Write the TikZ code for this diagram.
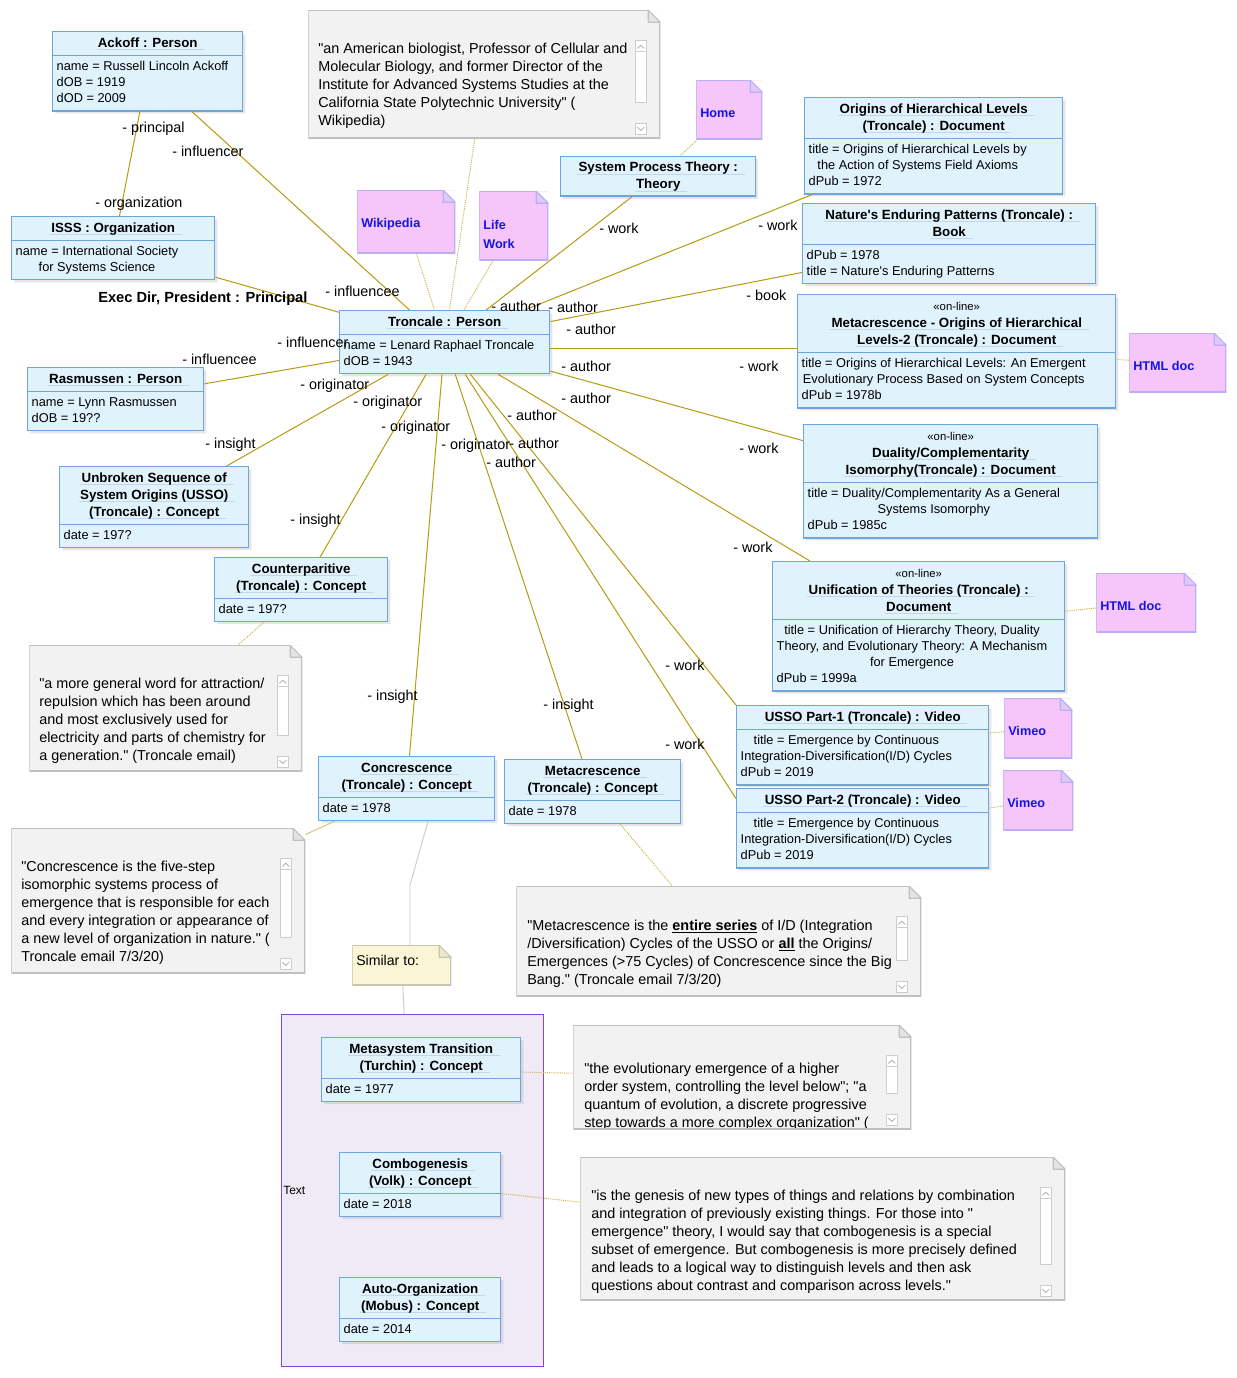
\documentclass[tikz,border=0pt]{standalone}
\usepackage{fontspec}
\setmainfont{Liberation Sans}[Ligatures=TeXOff]
\usetikzlibrary{positioning,shapes.multipart,shadows}

\definecolor{objfill}{RGB}{224,242,252}
\definecolor{objborder}{RGB}{110,165,225}
\definecolor{ulcol}{RGB}{196,214,232}
\definecolor{assoccol}{RGB}{184,154,18}
\definecolor{linkfill}{RGB}{246,198,250}
\definecolor{linkborder}{RGB}{185,175,245}
\definecolor{linkfold}{RGB}{226,200,248}
\definecolor{linkblue}{RGB}{20,20,230}
\definecolor{notefill}{RGB}{242,242,242}
\definecolor{noteborder}{RGB}{192,192,192}
\definecolor{notefold}{RGB}{228,228,228}
\definecolor{simfill}{RGB}{250,245,212}
\definecolor{simborder}{RGB}{200,196,176}
\definecolor{simfold}{RGB}{236,232,205}
\definecolor{framefill}{RGB}{240,233,246}
\definecolor{frameborder}{RGB}{140,64,215}
\definecolor{sbborder}{RGB}{205,205,205}
\definecolor{sbarrow}{RGB}{175,175,175}

\newcommand\ppbb{path picture bounding box}
\newcommand\ttl[1]{{\fontsize{10}{12.75}\selectfont\bfseries\strut\setbox0=\hbox{#1}\rlap{\kern-1pt\textcolor{ulcol}{\rule[-2.4pt]{\dimexpr\wd0+6pt\relax}{0.7pt}}}\box0}}
\newcommand\stereo{{\fontsize{8.5}{12.75}\selectfont\strut«on-line»}}
\newcommand\attrs[1]{{\renewcommand\arraystretch{0.95}\begin{tabular}{@{}l@{}}#1\end{tabular}}}
\newcommand\ctrrow[1]{\multicolumn{1}{@{}c@{}}{#1}}
\newcommand\topbox[4]{\parbox[c][#1][t]{#2}{\raggedright\vspace*{#3}\strut#4}}
\newcommand\dogear[2]{%
  \fill[white] ([xshift=-9pt]\ppbb.north east) -- (\ppbb.north east) -- ([yshift=-9pt]\ppbb.north east) -- cycle;
  \draw[#1, line width=1.6pt] ([xshift=-9pt]\ppbb.north east) -- (\ppbb.north west) -- (\ppbb.south west) -- (\ppbb.south east) -- ([yshift=-9pt]\ppbb.north east);
  \filldraw[fill=#2, draw=#1, line width=0.8pt, line join=round] ([xshift=-9pt]\ppbb.north east) -- ([shift={(-9pt,-9pt)}]\ppbb.north east) -- ([yshift=-9pt]\ppbb.north east) -- cycle;}
\newcommand\notescroll{%
  \draw[sbborder, fill=white, line width=0.6pt] ([shift={(-18.75pt,-30.75pt)}]\ppbb.north east) rectangle ([shift={(-10.5pt,27pt)}]\ppbb.south east);
  \draw[sbborder, fill=white, line width=0.6pt] ([shift={(-18.75pt,-22.5pt)}]\ppbb.north east) rectangle ([shift={(-10.5pt,-30.75pt)}]\ppbb.north east);
  \draw[sbborder, fill=white, line width=0.6pt] ([shift={(-18.75pt,3pt)}]\ppbb.south east) rectangle ([shift={(-10.5pt,11.25pt)}]\ppbb.south east);
  \draw[sbarrow, line width=0.6pt] ([shift={(-17.2pt,-28.6pt)}]\ppbb.north east) -- ++(2.6pt,2.4pt) -- ++(2.6pt,-2.4pt);
  \draw[sbarrow, line width=0.6pt] ([shift={(-17.2pt,8.3pt)}]\ppbb.south east) -- ++(2.6pt,-2.4pt) -- ++(2.6pt,2.4pt);}

\tikzset{
  obj/.style={rectangle split, rectangle split parts=2, rectangle split part align={center,left},
    draw=objborder, fill=objfill, line width=1.1pt, inner xsep=3pt, inner ysep=2pt,
    align=center, minimum width=#1, anchor=north west, font=\fontsize{9.6}{12.75}\selectfont,
    drop shadow={opacity=0.2, shadow xshift=2pt, shadow yshift=-2pt}},
  objhead/.style={draw=objborder, fill=objfill, line width=1.1pt, inner xsep=3pt, inner ysep=2pt,
    align=center, minimum width=#1, anchor=north west, font=\fontsize{9.6}{12.75}\selectfont,
    drop shadow={opacity=0.2, shadow xshift=2pt, shadow yshift=-2pt}},
  linknote/.style={fill=linkfill, path picture={\dogear{linkborder}{linkfold}}, inner xsep=3pt, inner ysep=0pt,
    anchor=north west, text=linkblue, font=\fontsize{9.5}{14.25}\selectfont\bfseries},
  greynote/.style={fill=notefill, path picture={\dogear{noteborder}{notefold}\notescroll}, inner sep=0pt, anchor=north west},
  simnote/.style={fill=simfill, path picture={\dogear{simborder}{simfold}}, inner xsep=3pt, inner ysep=0pt,
    anchor=north west, font=\fontsize{10.6}{13.5}\selectfont},
  notetext/.style={inner sep=0pt, align=left, anchor=north west, font=\fontsize{10.8}{13.5}\selectfont, execute at begin node=\strut},
  role/.style={inner sep=0pt, anchor=base west, font=\fontsize{10.8}{13}\selectfont},
  assoc/.style={draw=assoccol, line width=0.75pt},
  anchorline/.style={draw=assoccol!75, line width=0.7pt, dash pattern=on 0.8pt off 0.8pt},
  simlink/.style={draw=black!20, line width=0.7pt},
  groupframe/.style={draw=frameborder, fill=framefill, line width=1pt, inner sep=0pt,
    minimum width=196.5pt, minimum height=264pt, anchor=north west},
}

\begin{document}
\begin{tikzpicture}[x=0.75pt, y=-0.75pt]
	\fill[white] (0,0) rectangle (1237,1378);
	\useasboundingbox (0,0) rectangle (1237,1378);

	\node (textframe) [groupframe] at (281,1014) {};
	\node (textlbl) [anchor=west, inner sep=0pt, font=\fontsize{9}{11}\selectfont] at (283,1190) {Text};

	\node (wikinote) [greynote, minimum width=264pt, minimum height=96pt] at (308,10) {};
	\node (attrnote) [greynote, minimum width=204.75pt, minimum height=94.5pt] at (29,645) {};
	\node (concrnote) [greynote, minimum width=220.5pt, minimum height=108.75pt] at (11,828) {};
	\node (metanote) [greynote, minimum width=303.75pt, minimum height=82.5pt] at (516,886) {};
	\node (turchnote) [greynote, minimum width=253.5pt, minimum height=78pt] at (573,1025) {};
	\node (combonote) [greynote, minimum width=363.75pt, minimum height=107.25pt] at (580,1157) {};
	\node (simnote) [simnote] at (352,945) {\topbox{30pt}{68.25pt}{6pt}{Similar to:}};

	\begin{scope}
		\clip ([shift={(1pt,-1pt)}]wikinote.north west) rectangle ([shift={(-20pt,1.5pt)}]wikinote.south east);
		\node (wikitext) [notetext] at (318,43) {"an American biologist, Professor of Cellular and\\Molecular Biology, and former Director of the\\Institute for Advanced Systems Studies at the\\California State Polytechnic University" (\\Wikipedia)};
	\end{scope}
	\begin{scope}
		\clip ([shift={(1pt,-1pt)}]attrnote.north west) rectangle ([shift={(-20pt,1.5pt)}]attrnote.south east);
		\node (attrtext) [notetext] at (39,678) {"a more general word for attraction/\\repulsion which has been around\\and most exclusively used for\\electricity and parts of chemistry for\\a generation." (Troncale email)};
	\end{scope}
	\begin{scope}
		\clip ([shift={(1pt,-1pt)}]concrnote.north west) rectangle ([shift={(-20pt,1.5pt)}]concrnote.south east);
		\node (concrtext) [notetext] at (21,861) {"Concrescence is the five-step\\isomorphic systems process of\\emergence that is responsible for each\\and every integration or appearance of\\a new level of organization in nature." (\\Troncale email 7/3/20)};
	\end{scope}
	\begin{scope}
		\clip ([shift={(1pt,-1pt)}]metanote.north west) rectangle ([shift={(-20pt,1.5pt)}]metanote.south east);
		\node (metatext) [notetext] at (527,920) {"Metacrescence is the \textbf{\underline{entire series}} of I/D (Integration\\/Diversification) Cycles of the USSO or \textbf{\underline{all}} the Origins/\\Emergences (>75 Cycles) of Concrescence since the Big\\Bang." (Troncale email 7/3/20)};
	\end{scope}
	\begin{scope}
		\clip ([shift={(1pt,-1pt)}]turchnote.north west) rectangle ([shift={(-20pt,1.5pt)}]turchnote.south east);
		\node (turchtext) [notetext] at (584,1063) {"the evolutionary emergence of a higher\\order system, controlling the level below"; "a\\quantum of evolution, a discrete progressive\\step towards a more complex organization" (};
	\end{scope}
	\begin{scope}
		\clip ([shift={(1pt,-1pt)}]combonote.north west) rectangle ([shift={(-20pt,1.5pt)}]combonote.south east);
		\node (combotext) [notetext] at (591,1190) {"is the genesis of new types of things and relations by combination\\and integration of previously existing things. For those into "\\emergence" theory, I would say that combogenesis is a special\\subset of emergence. But combogenesis is more precisely defined\\and leads to a logical way to distinguish levels and then ask\\questions about contrast and comparison across levels."};
	\end{scope}

	\node (wikilink) [linknote] at (357,190) {\topbox{47.25pt}{67.5pt}{18pt}{Wikipedia}};
	\node (lifelink) [linknote] at (479,191) {\topbox{51.75pt}{45.75pt}{19pt}{Life\\Work}};
	\node (homelink) [linknote] at (696,80) {\topbox{44.25pt}{43.5pt}{18pt}{Home}};
	\node (htmla) [linknote] at (1129,333) {\topbox{44.25pt}{66.75pt}{18pt}{HTML doc}};
	\node (htmlb) [linknote] at (1096,573) {\topbox{44.25pt}{69pt}{18pt}{HTML doc}};
	\node (vimeoa) [linknote] at (1004,698) {\topbox{45pt}{45pt}{18pt}{Vimeo}};
	\node (vimeob) [linknote] at (1003,770) {\topbox{45pt}{46.5pt}{18pt}{Vimeo}};

	\node (ackoff) [obj=142.5pt] at (52,31) {\ttl{Ackoff : Person}\nodepart{two}\attrs{name = Russell Lincoln Ackoff\\dOB = 1919\\dOD = 2009}};
	\node (isss) [obj=152.25pt] at (11,216) {\ttl{ISSS : Organization}\nodepart{two}\attrs{name = International Society\\\ctrrow{for Systems Science}}};
	\node (rasm) [obj=132pt] at (27,367) {\ttl{Rasmussen : Person}\nodepart{two}\attrs{name = Lynn Rasmussen\\dOB = 19??}};
	\node (tronc) [obj=157.5pt] at (339,310) {\ttl{Troncale : Person}\nodepart{two}\attrs{name = Lenard Raphael Troncale\\dOB = 1943}};
	\node (usso) [obj=141.75pt] at (59,466) {\ttl{Unbroken Sequence of}\\\ttl{System Origins (USSO)}\\\ttl{(Troncale) : Concept}\nodepart{two}\attrs{date = 197?}};
	\node (counter) [obj=129.75pt] at (214,557) {\ttl{Counterparitive}\\\ttl{(Troncale) : Concept}\nodepart{two}\attrs{date = 197?}};
	\node (concr) [obj=132pt] at (318,756) {\ttl{Concrescence}\\\ttl{(Troncale) : Concept}\nodepart{two}\attrs{date = 1978}};
	\node (metac) [obj=132pt] at (504,759) {\ttl{Metacrescence}\\\ttl{(Troncale) : Concept}\nodepart{two}\attrs{date = 1978}};
	\node (spt) [objhead=146.25pt] at (560,156) {\ttl{System Process Theory :}\\\ttl{Theory}};
	\node (origins) [obj=193.5pt] at (804,97) {\ttl{Origins of Hierarchical Levels}\\\ttl{(Troncale) : Document}\nodepart{two}\attrs{title = Origins of Hierarchical Levels by\\\ctrrow{the Action of Systems Field Axioms}\\dPub = 1972}};
	\node (nature) [obj=219.75pt] at (802,203) {\ttl{Nature's Enduring Patterns (Troncale) :}\\\ttl{Book}\nodepart{two}\attrs{dPub = 1978\\title = Nature's Enduring Patterns}};
	\node (metad) [obj=238.5pt] at (797,294) {\stereo\\\ttl{Metacrescence - Origins of Hierarchical}\\\ttl{Levels-2 (Troncale) : Document}\nodepart{two}\attrs{title = Origins of Hierarchical Levels: An Emergent\\\ctrrow{Evolutionary Process Based on System Concepts}\\dPub = 1978b}};
	\node (duality) [obj=220.5pt] at (803,424) {\stereo\\\ttl{Duality/Complementarity}\\\ttl{Isomorphy(Troncale) : Document}\nodepart{two}\attrs{title = Duality/Complementarity As a General\\\ctrrow{Systems Isomorphy}\\dPub = 1985c}};
	\node (unif) [obj=219pt] at (772,561) {\stereo\\\ttl{Unification of Theories (Troncale) :}\\\ttl{Document}\nodepart{two}\attrs{\ctrrow{title = Unification of Hierarchy Theory, Duality}\\Theory, and Evolutionary Theory: A Mechanism\\\ctrrow{for Emergence}\\dPub = 1999a}};
	\node (ussoa) [obj=189pt] at (736,705) {\ttl{USSO Part-1 (Troncale) : Video}\nodepart{two}\attrs{\ctrrow{title = Emergence by Continuous}\\Integration-Diversification(I/D) Cycles\\dPub = 2019}};
	\node (ussob) [obj=189pt] at (736,788) {\ttl{USSO Part-2 (Troncale) : Video}\nodepart{two}\attrs{\ctrrow{title = Emergence by Continuous}\\Integration-Diversification(I/D) Cycles\\dPub = 2019}};
	\node (mst) [obj=149.25pt] at (321,1037) {\ttl{Metasystem Transition}\\\ttl{(Turchin) : Concept}\nodepart{two}\attrs{date = 1977}};
	\node (combo) [obj=120.75pt] at (339,1152) {\ttl{Combogenesis}\\\ttl{(Volk) : Concept}\nodepart{two}\attrs{date = 2018}};
	\node (autoorg) [obj=120.75pt] at (339,1277) {\ttl{Auto-Organization}\\\ttl{(Mobus) : Concept}\nodepart{two}\attrs{date = 2014}};

	\draw[assoc] (ackoff) -- (isss);
	\foreach \n in {ackoff,isss,rasm,usso,counter,concr,metac,unif,duality,nature,origins,spt}
		\draw[assoc] (\n) -- (tronc);
	\draw[assoc] ([yshift=2pt]metad.west) -- ([yshift=2pt]metad.west -| tronc.east);
	\draw[assoc] (tronc) -- (ussoa.north west);
	\draw[assoc] (tronc) -- ([yshift=-8pt]ussob.north west);
	\foreach \a/\b in {wikinote/tronc,wikilink/tronc,lifelink/tronc,homelink/spt,htmla/metad,htmlb/unif,vimeoa/ussoa,vimeob/ussob,counter/attrnote,metac/metanote,mst/turchnote,combo/combonote}
		\draw[anchorline] (\a) -- (\b);
	\draw[assoc, draw=assoccol!55] (concr) -- (concrnote);

	\coordinate (simbend) at (410,885);
	\draw[simlink] ([xshift=16pt]concr.south) -- (simbend) -- (simnote.north -| simbend);
	\draw[simlink] (simnote) -- (textframe);

	\foreach \x/\y/\t [count=\i] in {122/128/principal,95/203/organization,172/152/influencer,325/292/influencee,
		277/343/influencer,182/360/influencee,300/385/originator,205/444/insight,353/402/originator,290/520/insight,
		381/427/originator,367/696/insight,441/445/originator,509/444/author,543/705/insight,486/463/author,
		507/416/author,561/399/author,561/367/author,566/330/author,548/308/author,491/307/author,
		599/229/work,758/226/work,746/296/book,739/367/work,739/449/work,733/548/work,665/666/work,665/745/work}
		\node (role\i) [role] at (\x,\y+4) {- \t};
	\node (assocname) [role, font=\fontsize{11}{13}\selectfont\bfseries] at (98,302) {Exec Dir, President : Principal};
\end{tikzpicture}
\end{document}
